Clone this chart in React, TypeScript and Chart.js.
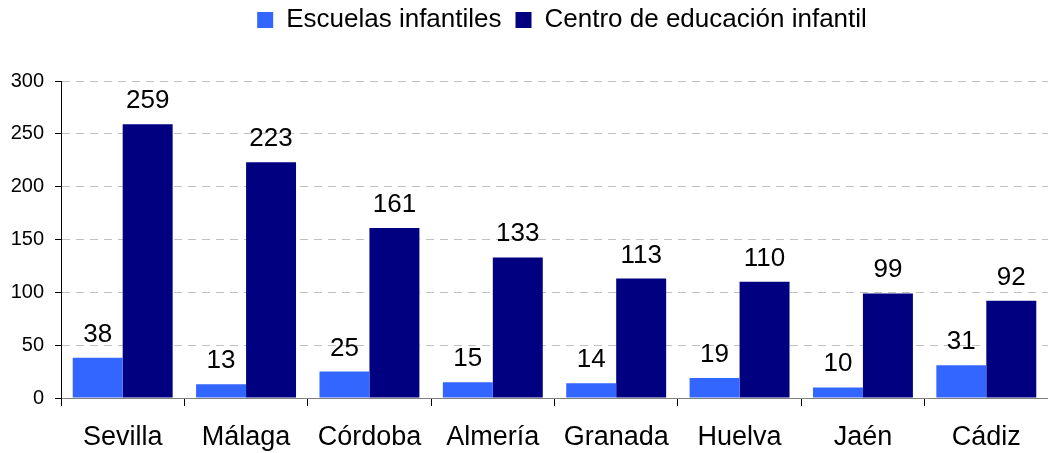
import React, { useEffect, useRef } from "react";
import { Chart, registerables } from "chart.js";

Chart.register(...registerables);

const categories = ["Sevilla", "Málaga", "Córdoba", "Almería", "Granada", "Huelva", "Jaén", "Cádiz"];
const escuelas = [38, 13, 25, 15, 14, 19, 10, 31];
const centros = [259, 223, 161, 133, 113, 110, 99, 92];
const seriesNames = ["Escuelas infantiles", "Centro de educación infantil"];
const yTicks = [0, 50, 100, 150, 200, 250, 300];

const FONT = "'Liberation Sans', Arial, sans-serif";

export default function App() {
  const ref = useRef<HTMLCanvasElement | null>(null);

  useEffect(() => {
    if (!ref.current) return;

    const legendTweak = {
      id: "legendTweak",
      afterInit(chart: any) {
        const lg = chart.legend;
        if (!lg) return;
        const orig = lg.fit;
        lg.fit = function () {
          orig.call(this);
          this.height = 81;
        };
      },
      afterLayout(chart: any) {
        const lg = chart.legend;
        if (!lg) return;
        lg.left += 76;
        lg.top -= 7;
      },
    };

    const dataLabels = {
      id: "dataLabels",
      afterDatasetsDraw(chart: any) {
        const ctx = chart.ctx;
        ctx.save();
        ctx.font = `26px ${FONT}`;
        ctx.fillStyle = "#000";
        ctx.textAlign = "center";
        ctx.textBaseline = "alphabetic";
        chart.data.datasets.forEach((ds: any, di: number) => {
          const meta = chart.getDatasetMeta(di);
          meta.data.forEach((bar: any, i: number) => {
            ctx.fillText(String(ds.data[i]), bar.x, bar.y - 16);
          });
        });
        ctx.restore();
      },
    };

    const chart = new Chart(ref.current, {
      type: "bar",
      data: {
        labels: categories,
        datasets: [
          { label: seriesNames[0], data: escuelas, backgroundColor: "#3366FF" },
          { label: seriesNames[1], data: centros, backgroundColor: "#000080" },
        ],
      },
      options: {
        animation: false,
        responsive: false,
        maintainAspectRatio: false,
        layout: { padding: 0 },
        datasets: { bar: { categoryPercentage: 0.81, barPercentage: 1 } },
        plugins: {
          legend: {
            position: "top",
            labels: {
              boxWidth: 16,
              boxHeight: 16,
              padding: 14,
              color: "#000",
              font: { family: FONT, size: 26 },
            },
          },
          tooltip: { enabled: false },
        },
        scales: {
          x: {
            grid: {
              offset: true,
              drawOnChartArea: false,
              drawTicks: true,
              tickLength: 8,
              tickColor: "#000",
            },
            border: { display: true, color: "#808080", width: 1 },
            ticks: {
              color: "#000",
              padding: 15,
              font: { family: FONT, size: 27 },
              maxRotation: 0,
              autoSkip: false,
            },
            afterFit(scale: any) {
              scale.height = 55;
            },
          },
          y: {
            min: 0,
            max: 300,
            afterBuildTicks(scale: any) {
              scale.ticks = yTicks.map((v) => ({ value: v }));
            },
            grid: {
              color: "#c0c0c0",
              tickColor: "#000",
              tickLength: 6,
              tickBorderDash: [],
            },
            border: { display: true, color: "#000", width: 1, dash: [8, 6] },
            ticks: {
              color: "#000",
              padding: 11,
              font: { family: FONT, size: 20 },
            },
            afterFit(scale: any) {
              scale.width = 61;
            },
          },
        },
      },
      plugins: [legendTweak, dataLabels],
    } as any);

    return () => chart.destroy();
  }, []);

  return (
    <div style={{ position: "fixed", left: 0, top: 0, width: 1048, height: 453, background: "#fff" }}>
      <canvas ref={ref} width={1048} height={453} style={{ display: "block", width: 1048, height: 453 }} />
    </div>
  );
}
